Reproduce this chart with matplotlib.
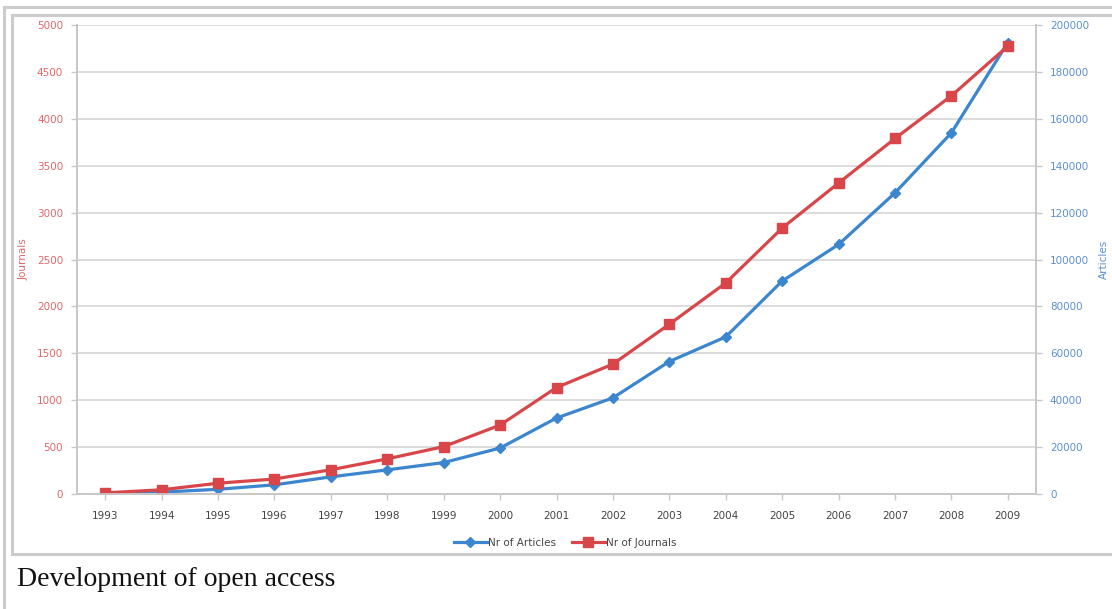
import matplotlib.pyplot as plt
from matplotlib.lines import Line2D

# Open access growth per year
years = [str(y) for y in range(1993, 2010)]
journals = [12, 45, 115, 160, 258, 375, 505, 735, 1135, 1385, 1810, 2250, 2835, 3315, 3790, 4245, 4775]
articles = [300, 800, 2000, 3900, 7300, 10300, 13400, 19600, 32400, 41000, 56500, 67000, 90800, 106400, 128400, 154000, 192500]

red = "#d9464a"
blue = "#3c86cf"
red_txt = "#e0686a"
blue_txt = "#5c8fd3"
axis_gray = "#c8c8c8"

W, H = 1112, 609
fig = plt.figure(figsize=(W / 100, H / 100), dpi=100)

def px(x, y):
    return x / W, 1 - y / H

# frame lines around the chart and the caption
for (x0, y0), (x1, y1) in [((4, 7), (4, 609)), ((4, 7), (1112, 7)),
                           ((12, 15), (12, 554)), ((12, 15), (1112, 15)),
                           ((12, 554), (1112, 554))]:
    a, b = px(x0, y0)
    c, d = px(x1, y1)
    fig.add_artist(Line2D([a, c], [b, d], transform=fig.transFigure,
                          color="#cccccc", lw=2.2))

left, right, top, bottom = 77, 1036, 25, 494
ax = fig.add_axes([left / W, 1 - bottom / H, (right - left) / W, (bottom - top) / H])
ax2 = ax.twinx()

x = list(range(len(years)))

ax2.plot(x, articles, color=blue, lw=2.3, marker="D", markersize=5,
         label="Nr of Articles", solid_joinstyle="round")
ax.plot(x, journals, color=red, lw=2.3, marker="s", markersize=7.5,
        label="Nr of Journals")

# journals on top of articles, grid kept behind both
ax.set_zorder(ax2.get_zorder() + 1)
ax.patch.set_visible(False)

ax.set_xlim(-0.5, len(years) - 0.5)
ax.set_ylim(0, 5000)
ax2.set_ylim(0, 200000)
ax.set_yticks(range(0, 5001, 500))
ax2.set_yticks(range(0, 200001, 20000))
ax.set_xticks(x)
ax.set_xticklabels(years)

ax2.grid(axis="y", color="#d9d9d9", lw=1.3)
ax2.set_axisbelow(True)

for a in (ax, ax2):
    a.spines["top"].set_visible(False)
    for s in ("left", "right", "bottom"):
        a.spines[s].set_color(axis_gray)
        a.spines[s].set_linewidth(1.3)

ax.tick_params(axis="y", colors=axis_gray, labelcolor=red_txt, labelsize=7.5,
               length=4, width=1, pad=6)
ax2.tick_params(axis="y", colors=axis_gray, labelcolor=blue_txt, labelsize=7.5,
                length=4, width=1, pad=6)
ax.tick_params(axis="x", colors=axis_gray, labelcolor="#444444", labelsize=7.5,
               length=4, width=1, pad=8)

ax.set_ylabel("Journals", color=red_txt, fontsize=7.5)
ax2.set_ylabel("Articles", color=blue_txt, fontsize=7.5, rotation=90)
ax.yaxis.set_label_coords((29 - left) / (right - left), 0.5)
ax2.yaxis.set_label_coords((1099 - left) / (right - left), 0.5)

h1, l1 = ax2.get_legend_handles_labels()
h2, l2 = ax.get_legend_handles_labels()
fig.legend(h1 + h2, l1 + l2, loc="center", bbox_to_anchor=(565 / W, 1 - 543 / H),
           ncol=2, frameon=False, fontsize=7.5, handlelength=3.2,
           handletextpad=0.1, columnspacing=1.5, labelcolor="#444444")

fig.text(17 / W, 1 - 580 / H, "Development of open access", family="Liberation Serif",
         fontsize=20, va="center", ha="left", color="#111111")

fig.savefig("out.png", dpi=100, facecolor="white")
